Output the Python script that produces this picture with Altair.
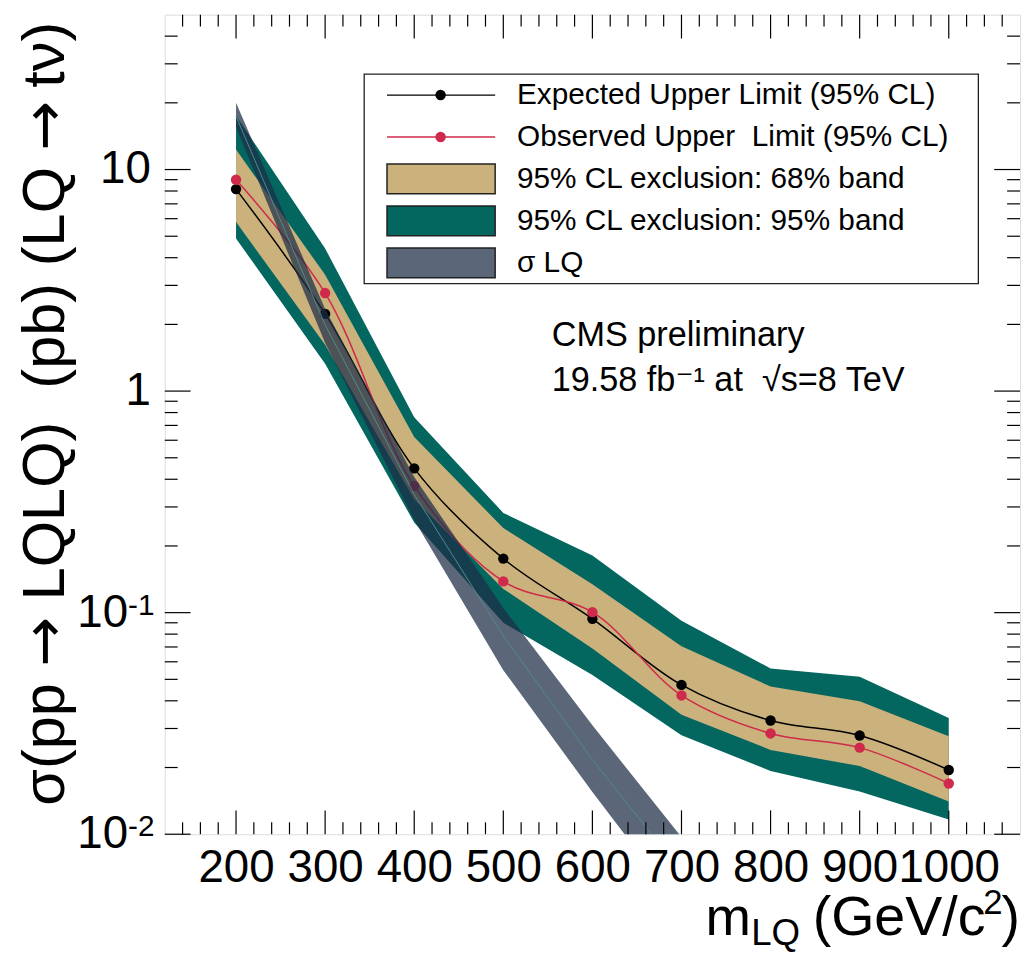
import altair as alt
import pandas as pd

# ---------------- data ----------------
mass = [200, 300, 400, 500, 600, 700, 800, 900, 1000]
expected = [8.16, 2.23, 0.448, 0.1754, 0.0938, 0.0472, 0.0326, 0.0279, 0.0195]
observed = [8.99, 2.77, 0.373, 0.1384, 0.1005, 0.0423, 0.0285, 0.0246, 0.01694]
band68_hi = [12.3, 3.35, 0.62, 0.241, 0.1345, 0.0705, 0.0464, 0.0398, 0.0277]
band68_lo = [5.79, 1.62, 0.325, 0.128, 0.0689, 0.0346, 0.0240, 0.0203, 0.01404]
band95_hi = [17.5, 4.40, 0.762, 0.282, 0.181, 0.092, 0.056, 0.0514, 0.0335]
band95_lo = [4.88, 1.33, 0.255, 0.090, 0.0523, 0.028, 0.0193, 0.0156, 0.01166]

mass_theory = [200, 300, 400, 500, 600, 700]
sigma_lq = [17.4, 1.99, 0.342, 0.0786, 0.0217, 0.00676]
sigma_lq_hi = [20.0, 2.35, 0.41, 0.105, 0.031, 0.0097]
sigma_lq_lo = [15.5, 1.65, 0.262, 0.055, 0.0155, 0.0046]

x_major = [200, 300, 400, 500, 600, 700, 800, 900, 1000]
x_minor = [140, 160, 180, 220, 240, 260, 280, 320, 340, 360, 380, 420, 440, 460, 480,
           520, 540, 560, 580, 620, 640, 660, 680, 720, 740, 760, 780, 820, 840, 860, 880,
           920, 940, 960, 980, 1020, 1040, 1060]
y_major = [0.01, 0.1, 1, 10]
y_minor = [0.02, 0.03, 0.04, 0.05, 0.06, 0.07, 0.08, 0.09,
           0.2, 0.3, 0.4, 0.5, 0.6, 0.7, 0.8, 0.9,
           2, 3, 4, 5, 6, 7, 8, 9, 20, 30, 40]
y_plain_vals = [10, 1]
y_plain_labels = ["10", "1"]
y_pow_vals = [0.1, 0.01]
y_pow_exps = ["-1", "-2"]

legend_labels = ["Expected Upper Limit (95% CL)",
                 "Observed Upper\u00a0 Limit (95% CL)",
                 "95% CL exclusion: 68% band",
                 "95% CL exclusion: 95% band",
                 "\u03c3 LQ"]
# y title, pieces from bottom to top; arrows drawn in DejaVu Sans
NB = "\u00a0"
y_title_parts = ["\u03c3(pp", NB + "\u2192", NB + "LQLQ)" + NB + NB + "(pb)" + NB + "(LQ",
                 NB + "\u2192", NB + "t\u03bd)"]
y_title_em = [2.025 * 0.96, 1.156 * 0.96, 7.558, 1.156 * 0.96, 1.389 * 0.96]  # approx. advances
cms_lines = ["CMS preliminary", "19.58 fb\u207b\u00b9 at \u00a0\u221as=8 TeV"]

# ---------------- style ----------------
W, H = 862, 826
FONT = "Liberation Sans, Arial, DejaVu Sans"
ARROW_FONT = "DejaVu Sans"
C_TAN = "#cbb27d"
C_GREEN = "#03665f"
C_SIG = "#1e2f47"
C_RED = "#cf2a4b"

xs = alt.Scale(domain=[120, 1080], nice=False, zero=False)
ys = alt.Scale(type="log", domain=[0.01, 50], nice=False)

x_axis = alt.Axis(values=x_major, title=None, format="d", labelFontSize=46, labelPadding=12,
                  labelFlush=False, labelOverlap=False, ticks=False, tickSize=0,
                  domain=False, grid=False, labelFont=FONT, labelColor="black")
y_axis = alt.Axis(values=y_major, title=None, labels=False, ticks=False, tickSize=0,
                  domain=False, grid=False)

X = alt.X("m:Q", scale=xs, axis=x_axis)


def Y(field):
    return alt.Y(field, type="quantitative", scale=ys, axis=y_axis)


lim = pd.DataFrame(dict(m=mass, exp=expected, obs=observed,
                        lo68=band68_lo, hi68=band68_hi, lo95=band95_lo, hi95=band95_hi))
th = pd.DataFrame(dict(m=mass_theory, c=sigma_lq, lo=sigma_lq_lo, hi=sigma_lq_hi))

layers = []
layers.append(alt.Chart(lim).mark_area(color=C_GREEN).encode(x=X, y=Y("lo95"), y2="hi95"))
layers.append(alt.Chart(lim).mark_area(color=C_TAN).encode(x=X, y=Y("lo68"), y2="hi68"))
layers.append(alt.Chart(lim).mark_line(color="black", strokeWidth=1.5,
                                       interpolate="catmull-rom").encode(x=X, y=Y("exp")))
layers.append(alt.Chart(lim).mark_point(filled=True, color="black", size=110,
                                        opacity=1).encode(x=X, y=Y("exp")))
layers.append(alt.Chart(lim).mark_line(color=C_RED, strokeWidth=1.5,
                                       interpolate="catmull-rom").encode(x=X, y=Y("obs")))
layers.append(alt.Chart(lim).mark_point(filled=True, color=C_RED, size=110,
                                        opacity=1).encode(x=X, y=Y("obs")))
layers.append(alt.Chart(th).mark_area(color=C_SIG, opacity=0.73, clip=True)
              .encode(x=X, y=Y("lo"), y2="hi"))
layers.append(alt.Chart(th).mark_line(color="#4f8a8e", strokeWidth=1, clip=True)
              .encode(x=X, y=Y("c")))

# ---------------- ROOT-style inward ticks on all four sides ----------------
xmaj = pd.DataFrame({"m": x_major})
xmin = pd.DataFrame({"m": x_minor})
ymaj = pd.DataFrame({"v": y_major})
ymin = pd.DataFrame({"v": y_minor})
tick = dict(color="black", strokeWidth=1.2)
for df, L in ((xmaj, 24), (xmin, 12)):
    layers.append(alt.Chart(df).mark_rule(**tick).encode(x=X, y=alt.value(H), y2=alt.value(H - L)))
    layers.append(alt.Chart(df).mark_rule(**tick).encode(x=X, y=alt.value(0), y2=alt.value(L)))
for df, L in ((ymaj, 26), (ymin, 13)):
    layers.append(alt.Chart(df).mark_rule(**tick).encode(y=Y("v"), x=alt.value(0), x2=alt.value(L)))
    layers.append(alt.Chart(df).mark_rule(**tick).encode(y=Y("v"), x=alt.value(W), x2=alt.value(W - L)))

# ---------------- y tick labels (with real superscripts) ----------------
yp = pd.DataFrame({"v": y_plain_vals, "t": y_plain_labels})
layers.append(alt.Chart(yp).mark_text(font=FONT, fontSize=46, color="black", align="right",
                                      baseline="middle")
              .encode(y=Y("v"), x=alt.value(-14), text="t:N"))
yw = pd.DataFrame({"v": y_pow_vals, "b": ["10"] * len(y_pow_vals), "e": y_pow_exps})
layers.append(alt.Chart(yw).mark_text(font=FONT, fontSize=46, color="black", align="right",
                                      baseline="middle")
              .encode(y=Y("v"), x=alt.value(-37), text="b:N"))
layers.append(alt.Chart(yw).mark_text(font=FONT, fontSize=30, color="black", align="left",
                                      baseline="middle", dy=-7)
              .encode(y=Y("v"), x=alt.value(-37), text="e:N"))

# ---------------- legend ----------------
dummy = pd.DataFrame({"d": [0]})
layers.append(alt.Chart(dummy).mark_rect(fill="white", stroke="#222222", strokeWidth=1.3)
              .encode(x=alt.value(201), x2=alt.value(820), y=alt.value(60), y2=alt.value(271)))
row_y = [81.0 + 42.3 * i for i in range(5)]
sym_x0, sym_x1, sym_xc, txt_x = 224, 333, 278, 355
for i, col in enumerate(["black", C_RED]):
    layers.append(alt.Chart(dummy).mark_rule(color=col, strokeWidth=1.3)
                  .encode(x=alt.value(sym_x0), x2=alt.value(sym_x1), y=alt.value(row_y[i])))
    layers.append(alt.Chart(dummy).mark_point(filled=True, color=col, size=110, opacity=1)
                  .encode(x=alt.value(sym_xc), y=alt.value(row_y[i])))
for i, col in zip([2, 3, 4], [C_TAN, C_GREEN, "#5b6779"]):
    layers.append(alt.Chart(dummy).mark_rect(fill=col, stroke="#222222", strokeWidth=1.5)
                  .encode(x=alt.value(sym_x0), x2=alt.value(sym_x1),
                          y=alt.value(row_y[i] - 15), y2=alt.value(row_y[i] + 15)))
for i, lab in enumerate(legend_labels):
    layers.append(alt.Chart(dummy).mark_text(text=lab, font=FONT, fontSize=30, color="black",
                                             align="left", baseline="middle")
                  .encode(x=alt.value(txt_x), y=alt.value(row_y[i])))

# ---------------- annotations ----------------
for j, line in enumerate(cms_lines):
    layers.append(alt.Chart(dummy).mark_text(text=line, font=FONT, fontSize=34.5, color="black",
                                             align="left", baseline="alphabetic")
                  .encode(x=alt.value(390), y=alt.value(334 + 45 * j)))

# x-axis title: m_LQ (GeV/c^2)
xt = [("m", 545, 928, 55, "left"), ("LQ", 591, 938, 37, "left"),
      ("(GeV/c", 653, 928, 56, "left"), ("2", 825, 906, 35, "left"), (")", 862, 928, 56, "right")]
for t, px, py, fs, al in xt:
    layers.append(alt.Chart(dummy).mark_text(text=t, font=FONT, fontSize=fs, color="black",
                                             align=al, baseline="alphabetic")
                  .encode(x=alt.value(px), y=alt.value(py)))

# y-axis title, rotated, stacked upward from the top end
TF = 60
top_end = 7
ends = []
acc = top_end
for w in reversed(y_title_em):
    ends.append(acc)
    acc += w * TF
ends = list(reversed(ends))
for part, yend in zip(y_title_parts, ends):
    f = ARROW_FONT if "\u2192" in part else FONT
    layers.append(alt.Chart(dummy).mark_text(text=part, font=f, fontSize=TF, color="black",
                                             align="right", baseline="alphabetic", angle=270)
                  .encode(x=alt.value(-102), y=alt.value(yend)))

chart = alt.layer(*layers).properties(
    width=W, height=H,
    autosize=alt.AutoSizeParams(type="none"),
    padding={"left": 158, "top": 3, "right": 3, "bottom": 115},
).configure_view(stroke="black", strokeWidth=2.2).configure(background="white")

chart.save("out.html", embed_options={"renderer": "svg", "actions": False})
